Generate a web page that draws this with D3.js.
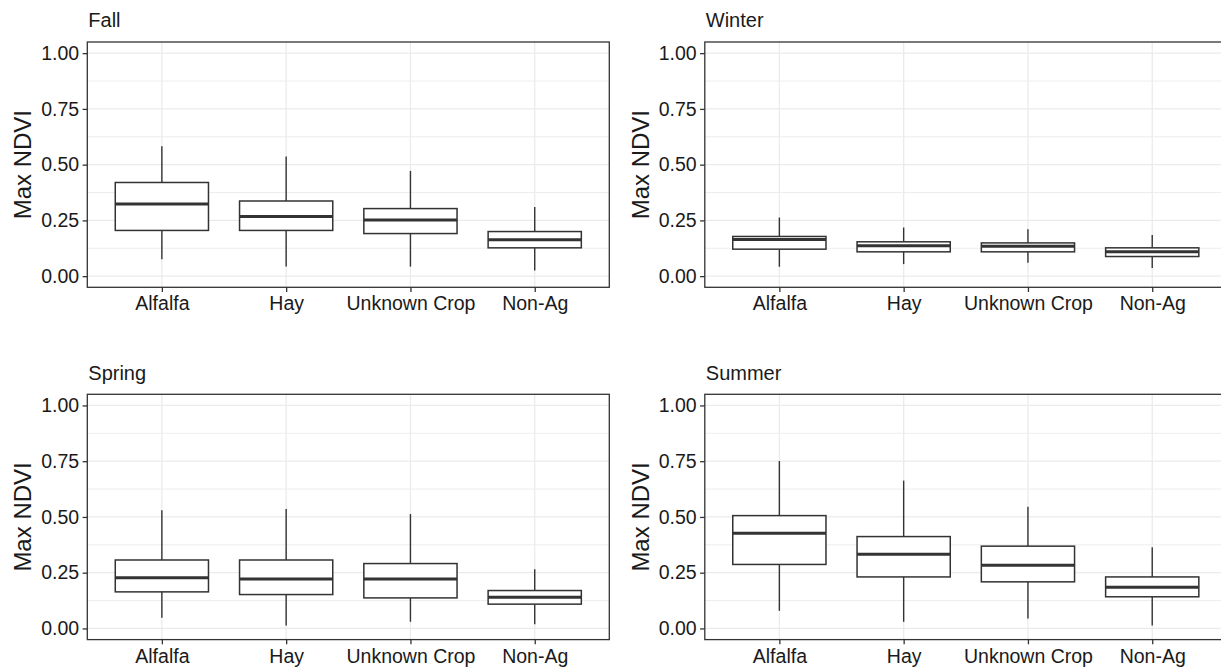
<!DOCTYPE html>
<html>
<head>
<meta charset="utf-8">
<script src="https://cdn.jsdelivr.net/npm/d3@7"></script>
<style>
  html, body { margin: 0; padding: 0; background: #fff; }
  svg { display: block; font-family: "Liberation Sans", Arial, sans-serif; }
</style>
</head>
<body>
<svg id="chart" width="1221" height="671"></svg>
<script>
// Land-cover classes on the x axis
const categories = ["Alfalfa", "Hay", "Unknown Crop", "Non-Ag"];

// Facet order (row by row)
const seasons = ["Fall", "Winter", "Spring", "Summer"];

// Box statistics per class: [lower whisker, Q1, median, Q3, upper whisker]
const fall = [
  [0.076, 0.205, 0.324, 0.420, 0.582],
  [0.043, 0.205, 0.267, 0.337, 0.537],
  [0.043, 0.191, 0.252, 0.303, 0.472],
  [0.025, 0.127, 0.163, 0.200, 0.310]
];
const winter = [
  [0.042, 0.121, 0.164, 0.178, 0.263],
  [0.054, 0.109, 0.136, 0.154, 0.218],
  [0.060, 0.109, 0.134, 0.149, 0.210],
  [0.036, 0.088, 0.109, 0.127, 0.185]
];
const spring = [
  [0.048, 0.164, 0.227, 0.307, 0.530],
  [0.013, 0.152, 0.222, 0.307, 0.536],
  [0.030, 0.137, 0.222, 0.291, 0.513],
  [0.019, 0.109, 0.140, 0.170, 0.266]
];
const summer = [
  [0.079, 0.287, 0.427, 0.506, 0.751],
  [0.030, 0.231, 0.333, 0.412, 0.663],
  [0.045, 0.209, 0.283, 0.369, 0.546],
  [0.013, 0.142, 0.185, 0.231, 0.364]
];

const yTicks = [0, 0.25, 0.5, 0.75, 1.0];
const yMinorTicks = [0.125, 0.375, 0.625, 0.875];
const yLabel = "Max NDVI";

const seasonStats = [fall, winter, spring, summer];

// Facet grid geometry
const cellW = 617.5, cellH = 352.3;
const plotLeft = 87.3, plotTop = 42, plotW = 522, plotH = 245.3;

const svg = d3.select("#chart");
const textColor = "#1a1a1a";
const lineColor = "#333333";
const gridColor = "#ebebeb";

const x = d3.scalePoint()
  .domain(categories)
  .range([0, plotW])
  .padding(0.6);

const y = d3.scaleLinear()
  .domain([-0.05, 1.05])
  .range([plotH, 0]);

const boxW = x.step() * 0.75;

seasons.forEach((season, i) => {
  const col = i % 2, row = Math.floor(i / 2);
  const g = svg.append("g")
    .attr("transform", `translate(${plotLeft + col * cellW},${plotTop + row * cellH})`);

  // panel title
  g.append("text")
    .attr("x", 1)
    .attr("y", -14.7)
    .attr("font-size", 20)
    .attr("fill", textColor)
    .text(season);

  // background grid
  const grid = g.append("g");
  grid.selectAll("line.minor").data(yMinorTicks).join("line")
    .attr("x1", 0).attr("x2", plotW)
    .attr("y1", d => y(d)).attr("y2", d => y(d))
    .attr("stroke", gridColor).attr("stroke-width", 0.9);
  grid.selectAll("line.majorY").data(yTicks).join("line")
    .attr("x1", 0).attr("x2", plotW)
    .attr("y1", d => y(d)).attr("y2", d => y(d))
    .attr("stroke", gridColor).attr("stroke-width", 1.3);
  grid.selectAll("line.majorX").data(categories).join("line")
    .attr("x1", d => x(d)).attr("x2", d => x(d))
    .attr("y1", 0).attr("y2", plotH)
    .attr("stroke", gridColor).attr("stroke-width", 1.3);

  // boxplots
  const stats = seasonStats[i];
  const boxes = g.append("g").selectAll("g").data(categories).join("g")
    .attr("transform", d => `translate(${x(d)},0)`);

  boxes.append("line")
    .attr("x1", 0).attr("x2", 0)
    .attr("y1", (d, k) => y(stats[k][3])).attr("y2", (d, k) => y(stats[k][4]))
    .attr("stroke", lineColor).attr("stroke-width", 1.4);
  boxes.append("line")
    .attr("x1", 0).attr("x2", 0)
    .attr("y1", (d, k) => y(stats[k][0])).attr("y2", (d, k) => y(stats[k][1]))
    .attr("stroke", lineColor).attr("stroke-width", 1.4);
  boxes.append("rect")
    .attr("x", -boxW / 2).attr("width", boxW)
    .attr("y", (d, k) => y(stats[k][3]))
    .attr("height", (d, k) => y(stats[k][1]) - y(stats[k][3]))
    .attr("fill", "#fff")
    .attr("stroke", lineColor).attr("stroke-width", 1.5);
  boxes.append("line")
    .attr("x1", -boxW / 2).attr("x2", boxW / 2)
    .attr("y1", (d, k) => y(stats[k][2])).attr("y2", (d, k) => y(stats[k][2]))
    .attr("stroke", lineColor).attr("stroke-width", 3);

  // panel border
  g.append("rect")
    .attr("x", 0).attr("y", 0).attr("width", plotW).attr("height", plotH)
    .attr("fill", "none").attr("stroke", lineColor).attr("stroke-width", 1.3);

  // y axis
  const yAxis = g.append("g")
    .call(d3.axisLeft(y).tickValues(yTicks).tickFormat(d3.format(".2f"))
      .tickSize(4.7).tickPadding(3.5));
  yAxis.select(".domain").remove();
  yAxis.selectAll(".tick line").attr("stroke", lineColor).attr("stroke-width", 1.3);
  yAxis.selectAll(".tick text")
    .attr("font-size", 19.5).attr("fill", textColor).attr("font-family", null);

  // x axis
  const xAxis = g.append("g")
    .attr("transform", `translate(0,${plotH})`)
    .call(d3.axisBottom(x).tickSize(4.7).tickPadding(4.5));
  xAxis.select(".domain").remove();
  xAxis.selectAll(".tick line").attr("stroke", lineColor).attr("stroke-width", 1.3);
  xAxis.selectAll(".tick text")
    .attr("font-size", 19.5).attr("fill", textColor).attr("font-family", null);

  // y axis title
  g.append("text")
    .attr("transform", `translate(${-56},${plotH / 2}) rotate(-90)`)
    .attr("text-anchor", "middle")
    .attr("font-size", 24)
    .attr("fill", textColor)
    .text(yLabel);
});
</script>
</body>
</html>
